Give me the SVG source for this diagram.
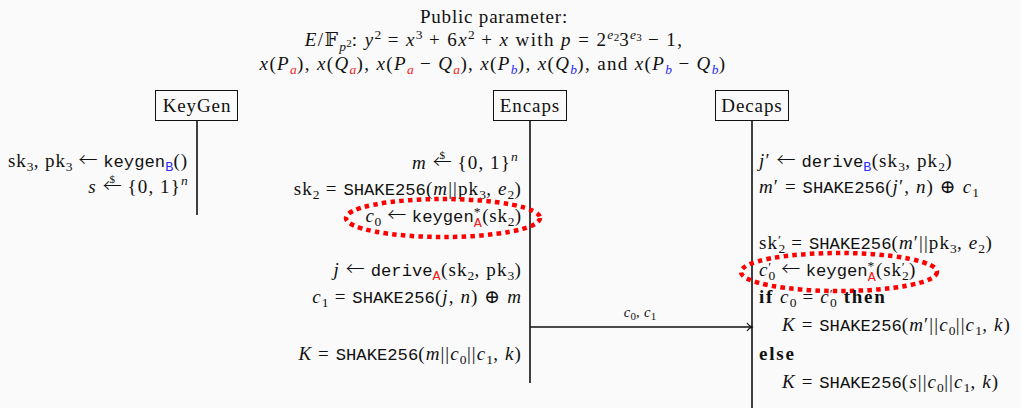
<svg xmlns="http://www.w3.org/2000/svg" width="1021" height="408" viewBox="0 0 1021 408">
<defs>
<style>
text{font-family:"Liberation Serif","DejaVu Serif",serif;font-size:19px;letter-spacing:1.1px;fill:#111}
.i{font-style:italic}
.tt{font-family:"Liberation Mono","DejaVu Sans Mono",monospace;font-size:17.2px;letter-spacing:0}
.s{font-size:13.5px;letter-spacing:0.3px}
.ss{font-size:11px;letter-spacing:0}
.ar{font-family:"Noto Sans CJK SC","DejaVu Sans",sans-serif;font-size:19px;font-weight:300;letter-spacing:0}
.red{fill:#f42020}
.blue{fill:#2a2aff}
.b{font-weight:bold;letter-spacing:1.8px}
.box{fill:none;stroke:#111;stroke-width:1}
.life{stroke:#111;stroke-width:1.6}
.oval{fill:none;stroke:#f00;stroke-width:4.5;stroke-dasharray:4.5 4.2}
</style>
<marker id="ah" markerWidth="10" markerHeight="10" refX="8" refY="5" orient="auto" markerUnits="userSpaceOnUse">
<path d="M3,1 Q5,4 8,5 Q5,6 3,9" fill="none" stroke="#111" stroke-width="1.2"/>
</marker>
</defs>
<rect width="1021" height="408" fill="#fafafa"/>

<g id="header">
<text x="494" y="23" text-anchor="middle" style="letter-spacing:0.8px">Public parameter:</text>
<text x="494" y="46" text-anchor="middle" style="letter-spacing:1.4px"><tspan class="i">E</tspan>/𝔽<tspan class="s i" dy="5">p</tspan><tspan class="ss" dy="-4">2</tspan><tspan dy="-1">: </tspan><tspan class="i">y</tspan><tspan class="s" dy="-7">2</tspan><tspan dy="7"> = </tspan><tspan class="i">x</tspan><tspan class="s" dy="-7">3</tspan><tspan dy="7"> + 6</tspan><tspan class="i">x</tspan><tspan class="s" dy="-7">2</tspan><tspan dy="7"> + </tspan><tspan class="i">x</tspan> with <tspan class="i">p</tspan> = 2<tspan class="s i" dy="-7">e</tspan><tspan class="ss" dy="2">2</tspan><tspan dy="5">3</tspan><tspan class="s i" dy="-7">e</tspan><tspan class="ss" dy="2">3</tspan><tspan dy="5"> − 1,</tspan></text>
<text x="493" y="70" text-anchor="middle" style="letter-spacing:1.35px"><tspan class="i">x</tspan>(<tspan class="i">P</tspan><tspan class="s i red" dy="4">a</tspan><tspan dy="-4">), </tspan><tspan class="i">x</tspan>(<tspan class="i">Q</tspan><tspan class="s i red" dy="4">a</tspan><tspan dy="-4">), </tspan><tspan class="i">x</tspan>(<tspan class="i">P</tspan><tspan class="s i red" dy="4">a</tspan><tspan dy="-4"> − </tspan><tspan class="i">Q</tspan><tspan class="s i red" dy="4">a</tspan><tspan dy="-4">), </tspan><tspan class="i">x</tspan>(<tspan class="i">P</tspan><tspan class="s i blue" dy="4">b</tspan><tspan dy="-4">), </tspan><tspan class="i">x</tspan>(<tspan class="i">Q</tspan><tspan class="s i blue" dy="4">b</tspan><tspan dy="-4">), and </tspan><tspan class="i">x</tspan>(<tspan class="i">P</tspan><tspan class="s i blue" dy="4">b</tspan><tspan dy="-4"> − </tspan><tspan class="i">Q</tspan><tspan class="s i blue" dy="4">b</tspan><tspan dy="-4">)</tspan></text>
</g>

<g id="keygen">
<rect class="box" x="155.5" y="90.5" width="82" height="30"/>
<text x="197" y="112" text-anchor="middle" style="letter-spacing:0.9px">KeyGen</text>
<line class="life" x1="197" y1="121" x2="197" y2="215"/>
<text x="188" y="167" text-anchor="end" style="letter-spacing:0.9px">sk<tspan class="s" dy="4">3</tspan><tspan dy="-4">, pk</tspan><tspan class="s" dy="4">3</tspan><tspan dy="-4"> </tspan><tspan class="ar">←</tspan> <tspan class="tt">keygen</tspan><tspan class="tt s blue" dy="4">B</tspan><tspan dy="-4">()</tspan></text>
<text x="188" y="193" text-anchor="end"><tspan class="i">s</tspan> <tspan class="ar">←</tspan><tspan class="ss" dx="-12.3" dy="-10">$</tspan><tspan dx="6.8" dy="10"> {0, 1}</tspan><tspan class="s i" dy="-8">n</tspan></text>
</g>

<g id="encaps">
<rect class="box" x="493.5" y="90.5" width="73" height="30"/>
<text x="530" y="112" text-anchor="middle" style="letter-spacing:0.9px">Encaps</text>
<line class="life" x1="530" y1="121" x2="530" y2="383"/>
<text x="518" y="169" text-anchor="end"><tspan class="i">m</tspan> <tspan class="ar">←</tspan><tspan class="ss" dx="-12.3" dy="-10">$</tspan><tspan dx="6.8" dy="10"> {0, 1}</tspan><tspan class="s i" dy="-8">n</tspan></text>
<text x="522" y="195" text-anchor="end">sk<tspan class="s" dy="4">2</tspan><tspan dy="-4"> = </tspan><tspan class="tt">SHAKE256</tspan>(<tspan class="i">m</tspan>||pk<tspan class="s" dy="4">3</tspan><tspan dy="-4">, </tspan><tspan class="i">e</tspan><tspan class="s" dy="4">2</tspan><tspan dy="-4">)</tspan></text>
<text x="522" y="222" text-anchor="end" style="letter-spacing:0.8px"><tspan class="i">c</tspan><tspan class="s" dy="4">0</tspan><tspan dy="-4"> </tspan><tspan class="ar">←</tspan> <tspan class="tt">keygen</tspan><tspan class="s" dy="-6">*</tspan><tspan class="tt s red" dx="-7" dy="11">A</tspan><tspan dy="-5">(sk</tspan><tspan class="s" dy="4">2</tspan><tspan dy="-4">)</tspan></text>
<ellipse class="oval" cx="443" cy="218" rx="97" ry="19"/>
<text x="522" y="276" text-anchor="end"><tspan class="i">j</tspan> <tspan class="ar">←</tspan> <tspan class="tt">derive</tspan><tspan class="tt s red" dy="4">A</tspan><tspan dy="-4">(sk</tspan><tspan class="s" dy="4">2</tspan><tspan dy="-4">, pk</tspan><tspan class="s" dy="4">3</tspan><tspan dy="-4">)</tspan></text>
<text x="522" y="303" text-anchor="end"><tspan class="i">c</tspan><tspan class="s" dy="4">1</tspan><tspan dy="-4"> = </tspan><tspan class="tt">SHAKE256</tspan>(<tspan class="i">j</tspan>, <tspan class="i">n</tspan>) ⊕ <tspan class="i">m</tspan></text>
<text x="522" y="360" text-anchor="end"><tspan class="i">K</tspan> = <tspan class="tt">SHAKE256</tspan>(<tspan class="i">m</tspan>||<tspan class="i">c</tspan><tspan class="s" dy="4">0</tspan><tspan dy="-4">||</tspan><tspan class="i">c</tspan><tspan class="s" dy="4">1</tspan><tspan dy="-4">, </tspan><tspan class="i">k</tspan>)</text>
</g>

<g id="decaps">
<rect class="box" x="715.5" y="90.5" width="73" height="30"/>
<text x="752" y="112" text-anchor="middle" style="letter-spacing:0.9px">Decaps</text>
<line class="life" x1="752" y1="121" x2="752" y2="408"/>
<text x="759" y="167"><tspan class="i">j</tspan>′ <tspan class="ar">←</tspan> <tspan class="tt">derive</tspan><tspan class="tt s blue" dy="4">B</tspan><tspan dy="-4">(sk</tspan><tspan class="s" dy="4">3</tspan><tspan dy="-4">, pk</tspan><tspan class="s" dy="4">2</tspan><tspan dy="-4">)</tspan></text>
<text x="759" y="193"><tspan class="i">m</tspan>′ = <tspan class="tt">SHAKE256</tspan>(<tspan class="i">j</tspan>′, <tspan class="i">n</tspan>) ⊕ <tspan class="i">c</tspan><tspan class="s" dy="4">1</tspan></text>
<text x="759" y="249">sk<tspan class="s" dy="-5">′</tspan><tspan class="s" dx="-3" dy="9">2</tspan><tspan dy="-4"> = </tspan><tspan class="tt">SHAKE256</tspan>(<tspan class="i">m</tspan>′||pk<tspan class="s" dy="4">3</tspan><tspan dy="-4">, </tspan><tspan class="i">e</tspan><tspan class="s" dy="4">2</tspan><tspan dy="-4">)</tspan></text>
<text x="759" y="276" style="letter-spacing:0.8px"><tspan class="i">c</tspan><tspan class="s" dy="-5">′</tspan><tspan class="s" dx="-3" dy="9">0</tspan><tspan dy="-4"> </tspan><tspan class="ar">←</tspan> <tspan class="tt">keygen</tspan><tspan class="s" dy="-6">*</tspan><tspan class="tt s red" dx="-7" dy="11">A</tspan><tspan dy="-5">(sk</tspan><tspan class="s" dy="-5">′</tspan><tspan class="s" dx="-3" dy="9">2</tspan><tspan dy="-4">)</tspan></text>
<ellipse class="oval" cx="839" cy="272" rx="98" ry="19"/>
<text x="759" y="303"><tspan class="b">if</tspan> <tspan class="i">c</tspan><tspan class="s" dy="4">0</tspan><tspan dy="-4"> = </tspan><tspan class="i">c</tspan><tspan class="s" dy="-5">′</tspan><tspan class="s" dx="-3" dy="9">0</tspan><tspan class="b" dy="-4"> then</tspan></text>
<text x="782" y="331"><tspan class="i">K</tspan> = <tspan class="tt">SHAKE256</tspan>(<tspan class="i">m</tspan>′||<tspan class="i">c</tspan><tspan class="s" dy="4">0</tspan><tspan dy="-4">||</tspan><tspan class="i">c</tspan><tspan class="s" dy="4">1</tspan><tspan dy="-4">, </tspan><tspan class="i">k</tspan>)</text>
<text x="759" y="360" class="b">else</text>
<text x="782" y="388"><tspan class="i">K</tspan> = <tspan class="tt">SHAKE256</tspan>(<tspan class="i">s</tspan>||<tspan class="i">c</tspan><tspan class="s" dy="4">0</tspan><tspan dy="-4">||</tspan><tspan class="i">c</tspan><tspan class="s" dy="4">1</tspan><tspan dy="-4">, </tspan><tspan class="i">k</tspan>)</text>
</g>

<g id="connectors">
<line x1="530" y1="327" x2="752" y2="327" stroke="#111" stroke-width="1.3" marker-end="url(#ah)"/>
<text x="640" y="317" text-anchor="middle" style="font-size:14.5px;letter-spacing:0.3px"><tspan class="i">c</tspan><tspan class="ss" dy="3">0</tspan><tspan dy="-3">, </tspan><tspan class="i">c</tspan><tspan class="ss" dy="3">1</tspan></text>
</g>
</svg>
